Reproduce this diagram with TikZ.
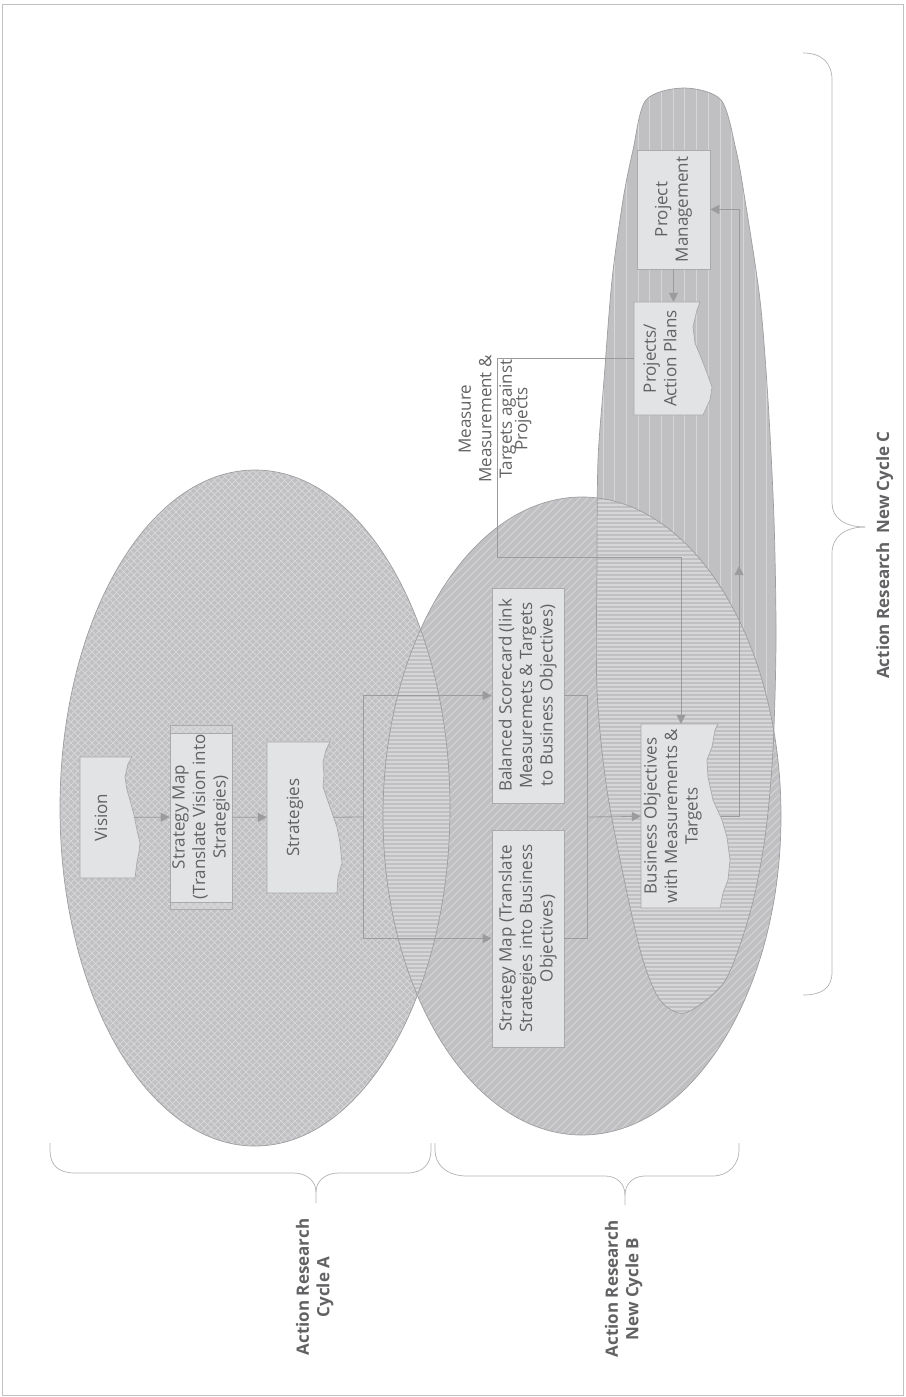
\documentclass[tikz,border=0pt]{standalone}
\usepackage{fontspec}
\setmainfont{Open Sans}
\usepackage{tikz}
\usetikzlibrary{arrows.meta, positioning, decorations.markings}

\definecolor{ellfill}{RGB}{192,192,194}
\definecolor{ellline}{RGB}{158,158,160}
\definecolor{hatchline}{RGB}{214,214,216}
\definecolor{boxfill}{RGB}{226,227,229}
\definecolor{boxline}{RGB}{170,170,172}
\definecolor{arrowgray}{RGB}{155,155,157}
\definecolor{textgray}{RGB}{98,98,100}
\definecolor{bracegray}{RGB}{178,178,180}

\newcommand{\vtext}[1]{\rotatebox{90}{\begin{tabular}{@{}c@{}}#1\end{tabular}}}
\newcommand{\ellA}{(255,808) ellipse [x radius=195, y radius=338]}
\newcommand{\ellB}{(582,816) ellipse [x radius=199, y radius=319]}
\newcommand{\ellC}{plot[smooth cycle, tension=0.5] coordinates {(684,88) (721,100) (736,150) (745,200) (760,300) (768,400) (774,520) (776,640) (773,750) (766,830) (755,893) (740,945) (722,985) (685,1013) (660,1000) (643,960) (627,893) (607,790) (597,690) (597,560) (598,460) (604,380) (612,280) (623,200) (633,150) (646,100)}}

\begin{document}
\begin{tikzpicture}[x=1pt, y=-1pt,
    hatch/.style={draw=hatchline, line width=0.9pt},
    stripe/.style={draw=hatchline, line width=1.7pt},
    outline/.style={draw=ellline, line width=0.7pt},
    docshape/.style={fill=boxfill, draw=boxline, line width=0.7pt},
    box/.style={draw=boxline, fill=boxfill, line width=0.7pt, inner sep=0pt, text=textgray, font=\fontsize{17}{20.5}\selectfont},
    docnode/.style={inner sep=0pt, text=textgray, font=\fontsize{17}{20.5}\selectfont},
    plaintext/.style={inner sep=0pt, text=textgray, font=\fontsize{17}{20.5}\selectfont},
    cyclelabel/.style={inner sep=0pt, text=textgray, font=\fontsize{17}{20.5}\selectfont\bfseries},
    conn/.style={draw=arrowgray, line width=0.8pt},
    arr/.style={conn, -{Triangle[length=9pt,width=9pt]}},
    midarrow/.style={postaction={decorate, decoration={markings, mark=at position #1 with {\arrow{Triangle[length=9pt,width=9pt]}}}}},
    brace/.style={draw=bracegray, line width=0.7pt}]

  \useasboundingbox (0,0) rectangle (905,1397);
  \draw[bracegray!80, line width=0.6pt] (2,4) rectangle (903,1395);

  % cycle A, cross hatched
  \fill[ellfill] \ellA;
  \begin{scope}
    \clip \ellA;
    \foreach \c in {520,527,...,1610}
      \draw[hatch] ({\c-400},400) -- ({\c-1250},1250);
    \foreach \c in {-1120,-1113,...,10}
      \draw[hatch] ({400+\c},400) -- ({1250+\c},1250);
  \end{scope}

  % cycle B, diagonal lines
  \fill[ellfill] \ellB;
  \begin{scope}
    \clip \ellB;
    \foreach \c in {870,878,...,1930}
      \draw[hatch] ({\c-450},450) -- ({\c-1200},1200);
  \end{scope}

  % cycle C, vertical lines
  \fill[ellfill] \ellC;
  \begin{scope}
    \clip \ellC;
    \foreach \x in {603,614.7,...,780}
      \draw[hatch] (\x,80) -- (\x,1020);
  \end{scope}

  % overlaps, horizontal lines
  \begin{scope}
    \clip \ellA;
    \clip \ellB;
    \fill[ellfill] \ellB;
    \foreach \y in {634,638,...,1006}
      \draw[stripe] (370,\y) -- (470,\y);
  \end{scope}
  \begin{scope}
    \clip \ellB;
    \clip \ellC;
    \fill[ellfill] \ellC;
    \foreach \y in {493,497,...,1017}
      \draw[stripe] (590,\y) -- (790,\y);
  \end{scope}
  \path[outline] \ellA;
  \path[outline] \ellB;
  \path[outline] \ellC;

  % torn documents
  \path[docshape] (80,757) -- (132,757) -- (128,764) -- (125,777) -- (127,790) -- (130,800) -- (134,815) -- (137,830) -- (140,843) -- (139,852) -- (137,862) -- (136,870) -- (135,878) -- (80,878) -- cycle;
  \path[docshape] (267,742) -- (330,742) -- (326,750) -- (323,762) -- (324,775) -- (323,787) -- (330,807) -- (337,827) -- (340,843) -- (342,863) -- (338,877) -- (337,893) -- (267,893) -- cycle;
  \path[docshape] (641,724) -- (718,724) -- (715,730) -- (712,747) -- (707,760) -- (708,777) -- (713,800) -- (722,820) -- (727,837) -- (730,860) -- (728,880) -- (723,893) -- (720,908) -- (641,908) -- cycle;
  \path[docshape] (634,302) -- (700,302) -- (697,310) -- (693,327) -- (695,343) -- (702,360) -- (707,373) -- (712,387) -- (710,400) -- (703,415) -- (634,415) -- cycle;
  \fill[boxfill] (170,733) rectangle (232,902);
  \fill[boxfill, fill opacity=0.35] (170,725) rectangle (232,733) (170,902) rectangle (232,909);
  \draw[boxline, line width=0.7pt] (170,733) -- (232,733) (170,902) -- (232,902);

  % boxes
  \node[docnode, minimum width=55, minimum height=121] (vis) at (107.5,817.5) {\vtext{Vision}\hspace*{9pt}};
  \node[box, fill=none, minimum width=62, minimum height=184] (smap1) at (201,817) {\vtext{Strategy Map\\(Translate Vision into\\Strategies)}};
  \node[docnode, minimum width=66, minimum height=151] (strat) at (300,817.5) {\vtext{Strategies}\hspace*{10pt}};
  \node[box, minimum width=72, minimum height=215] (bsc) at (528,695.5) {\vtext{Balanced Scorecard (link\\Measuremets \& Targets\\to Business Objectives)}};
  \node[box, minimum width=72, minimum height=217] (smap2) at (528,938.5) {\vtext{Strategy Map (Translate\\Strategies into Business\\Objectives)}};
  \node[docnode, minimum width=80, minimum height=184] (bobj) at (681,816) {\vtext{Business Objectives\\with Measurements \&\\Targets}\hspace*{16pt}};
  \node[docnode, minimum width=66, minimum height=113] (proj) at (667,358.5) {\vtext{Projects/\\Action Plans}\hspace*{10pt}};
  \node[box, minimum width=73, minimum height=119] (pm) at (673.5,209.5) {\vtext{Project\\Management}};
  \node[plaintext] (meas) at (495,419) {\vtext{Measure\\Measurement \&\\Targets against\\[-5pt]Projects}};

  \coordinate (split1) at (363,817);
  \coordinate (join1) at (587,817);
  \coordinate (loopc) at (739,816);
  \coordinate (mc1) at (497,557);

  % connectors
  \draw[arr] (vis) -- (smap1);
  \draw[arr] (smap1) -- (strat);
  \draw[conn] (strat) -- (split1);
  \draw[arr] (split1) |- (bsc);
  \draw[arr] (split1) |- (smap2);
  \draw[conn] (bsc) -| (join1);
  \draw[conn] (smap2) -| (join1);
  \draw[arr] (join1) -- (bobj);
  \draw[arr] (pm) -- (pm |- proj.north);
  \draw[arr, midarrow=0.41] (bobj) -- (loopc) |- (pm);
  \draw[arr] (proj) -| (mc1) -| (bobj);

  % braces
  \draw[brace] (50,1143) -- (50,1150) .. controls (50,1165) and (58,1173) .. (75,1173) -- (293,1173) .. controls (308,1173) and (316,1182) .. (316,1192) -- (316,1203);
  \draw[brace] (316,1192) .. controls (316,1182) and (324,1173) .. (339,1173) -- (407,1173) .. controls (424,1173) and (431,1163) .. (431,1150) -- (431,1143);
  \draw[brace] (435,1143) -- (435,1150) .. controls (435,1165) and (447,1176) .. (467,1176) -- (605,1176) .. controls (617,1176) and (625,1184) .. (625,1195) -- (625,1205);
  \draw[brace] (625,1195) .. controls (625,1184) and (633,1176) .. (645,1176) -- (712,1176) .. controls (730,1176) and (739,1163) .. (739,1150) -- (739,1143);
  \draw[brace] (803,53) .. controls (822,53) and (832,63) .. (832,80) -- (832,503) .. controls (832,518) and (845,527) .. (865,527);
  \draw[brace] (865,527) .. controls (845,527) and (832,537) .. (832,553) -- (832,972) .. controls (832,988) and (822,995) .. (803,995);

  \node[cyclelabel] (labA) at (315,1287) {\vtext{Action Research\\Cycle A}};
  \node[cyclelabel] (labB) at (624,1289) {\vtext{Action Research\\New Cycle B}};
  \node[cyclelabel] (labC) at (885,555) {\vtext{Action Research~~New Cycle C}};
\end{tikzpicture}
\end{document}
